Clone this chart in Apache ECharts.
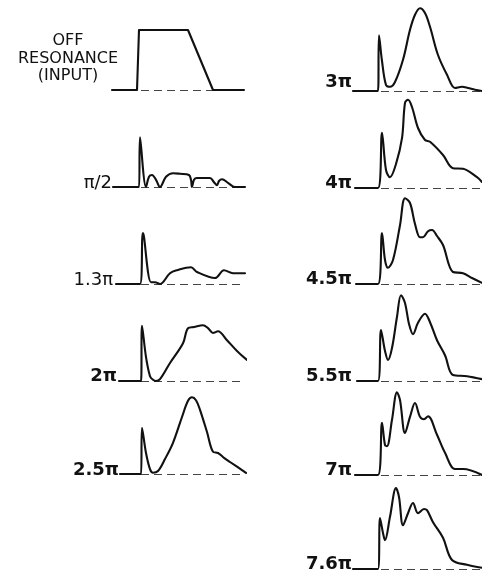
<!DOCTYPE html>
<html>
<head>
<meta charset="utf-8">
<script src="https://cdn.jsdelivr.net/npm/echarts@6/dist/echarts.min.js"></script>
<style>
html,body{margin:0;padding:0;background:#fff;}
#chart{width:482px;height:572px;}
</style>
</head>
<body>
<div id="chart"></div>
<script>
// Panel labels
const inputLabel = ['OFF', 'RESONANCE', '(INPUT)'];
const labels = ['', 'π/2', '1.3π', '2π', '2.5π', '3π', '4π', '4.5π', '5.5π', '7π', '7.6π'];

// Pulse shapes: [time (arb. units), amplitude (input pulse = 1)]
const offRes = [[-2.7,0],[-0.2,0],[0.0,1.0],[4.9,1.0],[7.4,0],[10.5,0]];
const halfPi = [[-2.6,0],[0,0],[0.1,0.83],[0.7,0],[1.0,0.17],[1.3,0.2],[1.7,0.12],[2.1,0],[2.7,0.17],[3.4,0.23],[4.1,0.22],[5.0,0.2],[5.2,0.12],[5.3,0],[5.5,0.12],[5.8,0.15],[7.1,0.15],[7.5,0.08],[7.8,0.03],[8.0,0.1],[8.3,0.13],[8.9,0.07],[9.6,0],[10.6,0]];
const p13 = [[-2.3,0],[0.1,0],[0.4,0.85],[1.2,0.03],[1.6,0.03],[2.1,0],[3.1,0.18],[3.8,0.23],[5.2,0.28],[5.8,0.2],[7.6,0.1],[8.5,0.23],[9.4,0.18],[10.6,0.18]];
const p2 = [[-2.0,0],[0.2,0],[0.3,0.92],[0.7,0.4],[1.1,0.08],[1.4,0.02],[1.7,0],[2.1,0.03],[3.1,0.3],[4.4,0.63],[4.9,0.88],[5.5,0.9],[6.4,0.93],[6.9,0.88],[7.4,0.8],[7.9,0.83],[8.8,0.68],[9.8,0.5],[10.8,0.35]];
const p25 = [[-1.9,0],[0.2,0],[0.3,0.77],[0.7,0.35],[1.1,0.08],[1.4,0.02],[1.9,0.05],[2.6,0.25],[3.4,0.52],[4.3,0.95],[4.9,1.22],[5.3,1.28],[5.7,1.23],[6.1,1.07],[6.8,0.7],[7.4,0.37],[7.9,0.35],[8.5,0.27],[9.1,0.2],[10.7,0.02]];
const p3 = [[-2.6,0],[-0.1,0],[0.0,0.93],[0.3,0.5],[0.7,0.1],[1.1,0.07],[1.6,0.15],[2.4,0.52],[3.1,1.02],[3.6,1.27],[4.1,1.38],[4.6,1.3],[5.1,1.07],[5.9,0.6],[6.8,0.27],[7.6,0.05],[8.3,0.07],[8.9,0.05],[9.6,0.02],[10.3,0]];
const p4 = [[-2.4,0],[-0.1,0],[0.3,0.92],[0.7,0.3],[1.1,0.18],[1.7,0.4],[2.3,0.83],[2.6,1.42],[2.9,1.47],[3.3,1.35],[3.9,1.0],[4.6,0.8],[5.1,0.77],[6.4,0.55],[7.4,0.33],[8.4,0.32],[9.8,0.18],[10.3,0.1]];
const p45 = [[-2.3,0],[-0.1,0],[0.3,0.85],[0.6,0.4],[0.9,0.27],[1.4,0.4],[2.1,0.98],[2.6,1.43],[3.1,1.35],[3.6,1.0],[4.1,0.78],[4.4,0.78],[4.9,0.88],[5.3,0.9],[5.8,0.8],[6.4,0.65],[7.4,0.2],[8.4,0.18],[9.3,0.1],[10.3,0.02]];
const p55 = [[-2.2,0],[-0.1,0],[0.2,0.85],[0.6,0.5],[0.9,0.35],[1.3,0.55],[1.8,1.07],[2.2,1.43],[2.6,1.3],[3.0,0.95],[3.4,0.78],[3.9,0.97],[4.6,1.12],[5.1,0.98],[5.8,0.68],[6.6,0.43],[7.4,0.1],[8.8,0.08],[10.3,0.03]];
const p7 = [[-2.4,0],[-0.1,0],[0.3,0.87],[0.6,0.5],[0.8,0.48],[1.3,0.92],[1.8,1.38],[2.1,1.25],[2.6,0.7],[3.1,0.97],[3.6,1.2],[4.1,0.97],[4.5,0.93],[4.9,0.98],[5.8,0.67],[6.6,0.37],[7.6,0.1],[8.4,0.1],[10.3,0]];
const p76 = [[-2.6,0],[-0.1,0],[0.1,0.85],[0.4,0.6],[0.6,0.48],[1.1,0.87],[1.7,1.35],[2.0,1.2],[2.4,0.73],[2.9,0.93],[3.4,1.1],[3.9,0.93],[4.5,1.0],[4.8,0.98],[5.4,0.78],[6.4,0.52],[7.3,0.15],[8.8,0.07],[10.3,0.02]];

const shapes = [offRes, halfPi, p13, p2, p25, p3, p4, p45, p55, p7, p76];

// Layout (pixels) - column index and baseline y per panel
const cols = [0,0,0,0,0,1,1,1,1,1,1];
const bases = [90,187,284,381,474,91,188,284,381,475,569];
const colLeft = [109, 349];
const colMax = [10.6, 10.3];
const labelRight = [[0,112,113,117,119],[352,352,352,352,352,352]];
const labelDy = [0,2,2,1,2,-3,1,1,1,1,1];

const grids = [], xAxes = [], yAxes = [], series = [], graphics = [];
const tMin = -3, ampMax = 1.5, pxT = 10, pxA = 60;
shapes.forEach((d, i) => {
  const c = cols[i];
  grids.push({left: colLeft[c], top: bases[i] - ampMax * pxA, width: (colMax[c] - tMin) * pxT, height: ampMax * pxA});
  xAxes.push({type:'value', gridIndex:i, min:tMin, max:colMax[c], show:false});
  yAxes.push({type:'value', gridIndex:i, min:0, max:ampMax, show:false});
  series.push({
    type:'line', xAxisIndex:i, yAxisIndex:i, data:d, symbol:'none', clip:false,
    smooth: i === 0 ? false : 0.35,
    lineStyle:{color:'#111', width:2.1, join:'round', cap:'round'},
    z: 3,
    markLine:{silent:true, symbol:'none', label:{show:false}, z: 2,
      lineStyle:{type:[8,5], color:'#444', width:1},
      data:[[{coord:[0.2,0]},{coord:[colMax[c],0]}]]}
  });
});

// labels
inputLabel.forEach((t, k) => {
  graphics.push({type:'text', x:68, y:[41,59,76][k], style:{text:t, font:'16px "DejaVu Sans"', fill:'#111', textAlign:'center', textVerticalAlign:'middle'}});
});
labels.forEach((t, i) => {
  if (!t) return;
  const c = cols[i];
  const rowIdx = c === 0 ? i : i - 5;
  graphics.push({type:'text', x: labelRight[c][rowIdx], y: bases[i] + 3 + labelDy[i],
    style:{text:t, font:(c===1 || i>=3 ? 'bold ' : '') + '18px "DejaVu Sans"', fill:'#111', textAlign:'right', textVerticalAlign:'bottom'}});
});

const chart = echarts.init(document.getElementById('chart'));
chart.setOption({
  animation:false,
  backgroundColor:'#fff',
  grid:grids, xAxis:xAxes, yAxis:yAxes, series:series, graphic:graphics
});
</script>
</body>
</html>
